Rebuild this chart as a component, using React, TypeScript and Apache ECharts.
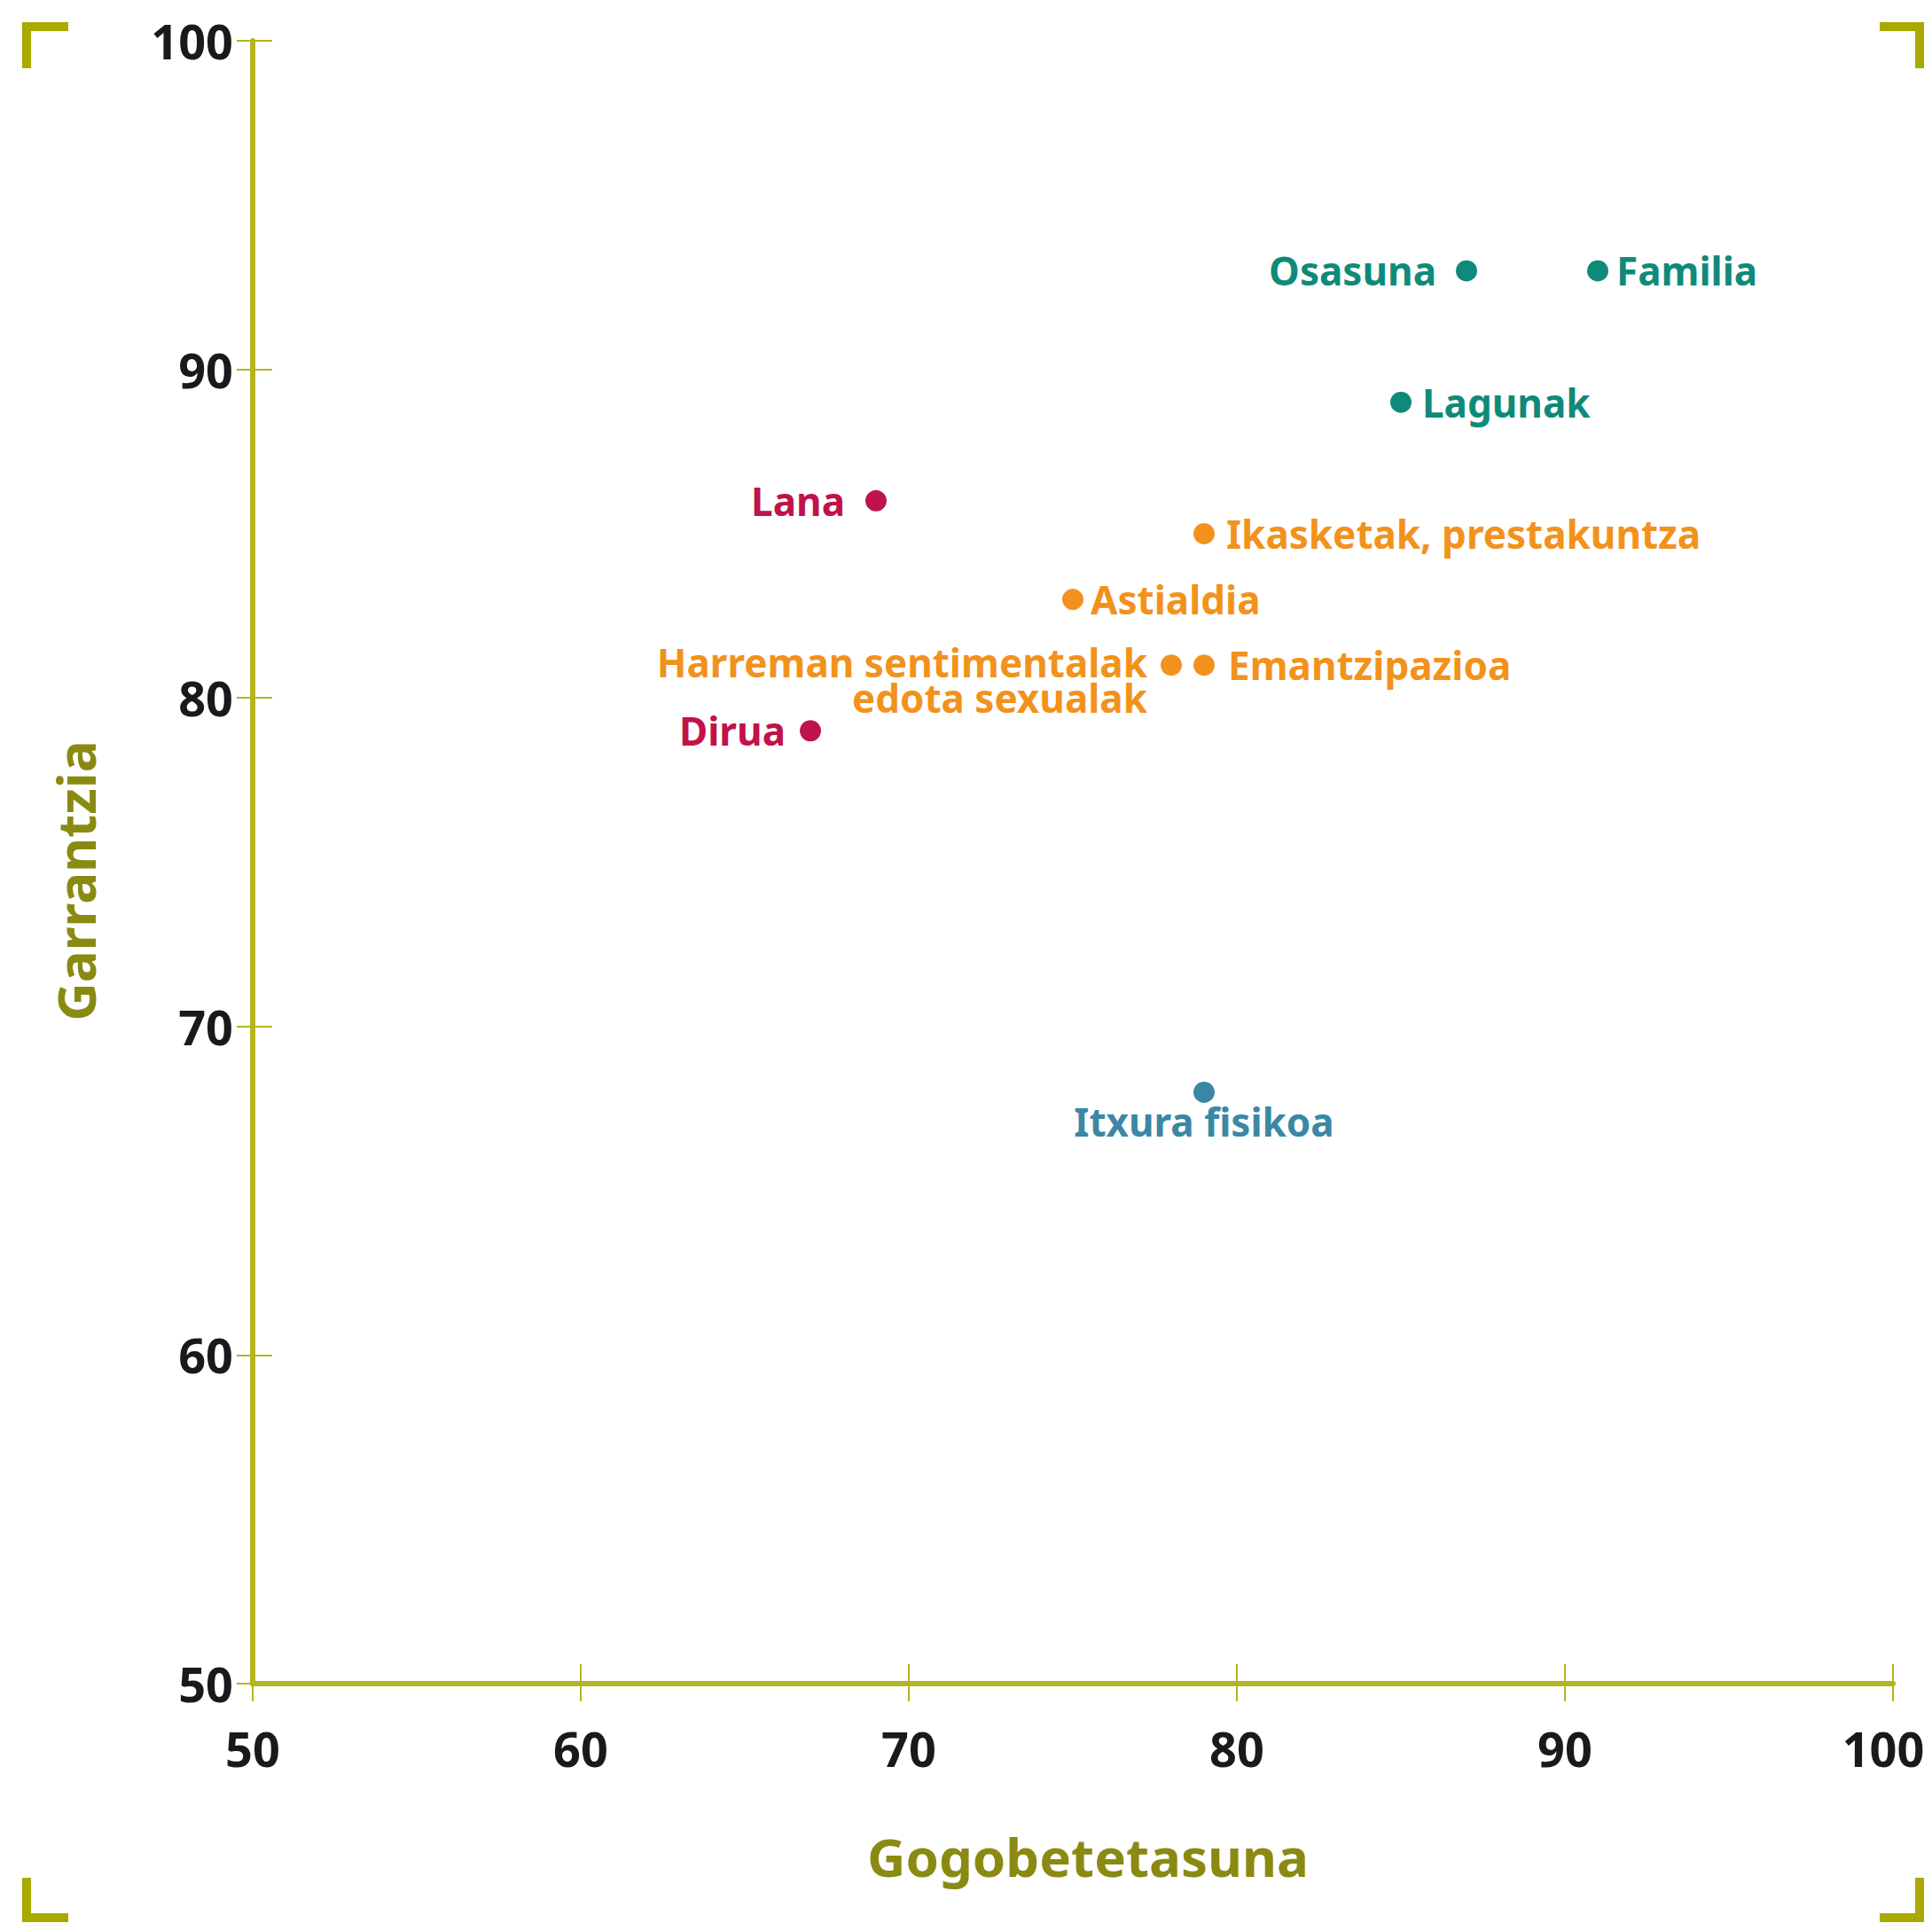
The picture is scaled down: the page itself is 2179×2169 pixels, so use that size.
import React, { useEffect, useRef } from "react";
import * as echarts from "echarts";

// ---- data ----
const itemNames = [
  "Osasuna",
  "Familia",
  "Lagunak",
  "Lana",
  "Ikasketak, prestakuntza",
  "Astialdia",
  "Harreman sentimentalak\nedota sexualak",
  "Emantzipazioa",
  "Dirua",
  "Itxura fisikoa",
];
const satisfaction = [87, 91, 85, 69, 79, 75, 78, 79, 67, 79];
const importance = [93, 93, 89, 86, 85, 83, 81, 81, 79, 68];
const groups = ["teal", "teal", "teal", "red", "orange", "orange", "orange", "orange", "red", "blue"];
const xTicks = [50, 60, 70, 80, 90, 100];
const yTicks = [50, 60, 70, 80, 90, 100];
const xTitle = "Gogobetetasuna";
const yTitle = "Garrantzia";

// ---- styles ----
const groupColors: Record<string, string> = {
  teal: "#0f8a7a",
  red: "#c0124b",
  orange: "#f2921c",
  blue: "#3a88a5",
};
const labelPlacement: Record<string, { position: string; distance: number; dy?: number }> = {
  Osasuna: { position: "left", distance: 22 },
  Familia: { position: "right", distance: 9 },
  Lagunak: { position: "right", distance: 12 },
  Lana: { position: "left", distance: 23 },
  "Ikasketak, prestakuntza": { position: "right", distance: 13 },
  Astialdia: { position: "right", distance: 8 },
  "Harreman sentimentalak\nedota sexualak": { position: "left", distance: 15, dy: 17 },
  Emantzipazioa: { position: "right", distance: 15 },
  Dirua: { position: "left", distance: 16 },
  "Itxura fisikoa": { position: "bottom", distance: 1 },
};

const FONT = "Noto Sans";
const AXIS = "#b4b41e";
const BRACKET = "#a9a900";
const TITLE = "#8a8a12";

export default function App() {
  const ref = useRef<HTMLDivElement>(null);
  useEffect(() => {
    if (!ref.current) return;
    const chart = echarts.init(ref.current, null, { renderer: "svg" });
    const data = itemNames.map((n, i) => {
      const c = groupColors[groups[i]];
      const p = labelPlacement[n];
      return {
        name: n,
        value: [satisfaction[i], importance[i]],
        itemStyle: { color: c, opacity: 1 },
        label: {
          show: true,
          formatter: "{b}",
          position: p.position,
          distance: p.distance,
          color: c,
          opacity: 1,
          fontSize: 44,
          fontWeight: "bold",
          fontFamily: FONT,
          lineHeight: 40,
          align: p.position === "left" ? "right" : p.position === "right" ? "left" : "center",
        },
      };
    });
    const bracket = (x: number, y: number, w: number, h: number) => ({
      type: "rect",
      shape: { x, y, width: w, height: h },
      style: { fill: BRACKET },
      silent: true,
    });
    const tickStyle = { color: "#1a1a1a", fontSize: 54, fontWeight: "bold", fontFamily: FONT };
    chart.setOption({
      animation: false,
      backgroundColor: "#ffffff",
      grid: { left: 285, right: 44, top: 46, bottom: 270, containLabel: false, outerBoundsMode: "none" },
      xAxis: [
        {
          type: "value",
          min: xTicks[0],
          max: xTicks[xTicks.length - 1],
          interval: 10,
          position: "bottom",
          name: xTitle,
          nameLocation: "middle",
          nameGap: 165,
          nameTextStyle: {
            color: TITLE,
            fontSize: 60,
            fontWeight: "bold",
            fontFamily: FONT,
            padding: [0, 0, 0, 34],
          },
          axisLine: { show: true, lineStyle: { color: AXIS, width: 6 } },
          axisTick: { show: true, inside: false, length: 20, lineStyle: { color: AXIS, width: 2 } },
          axisLabel: {
            ...tickStyle,
            margin: 46,
            formatter: (v: number) => (v === xTicks[xTicks.length - 1] ? "{last|" + v + "}" : String(v)),
            rich: { last: { ...tickStyle, padding: [0, 22, 0, 0] } },
          },
          splitLine: { show: false },
        },
        {
          type: "value",
          min: xTicks[0],
          max: xTicks[xTicks.length - 1],
          interval: 10,
          position: "bottom",
          offset: 0,
          axisLine: { show: false },
          axisTick: { show: true, inside: true, length: 22, lineStyle: { color: AXIS, width: 2 } },
          axisLabel: { show: false },
          splitLine: { show: false },
        },
      ],
      yAxis: [
        {
          type: "value",
          min: yTicks[0],
          max: yTicks[yTicks.length - 1],
          interval: 10,
          position: "left",
          name: yTitle,
          nameLocation: "middle",
          nameGap: 170,
          nameTextStyle: {
            color: TITLE,
            fontSize: 60,
            fontWeight: "bold",
            fontFamily: FONT,
            padding: [0, 42, 0, 0],
          },
          axisLine: { show: true, lineStyle: { color: AXIS, width: 6 } },
          axisTick: { show: true, inside: false, length: 18, lineStyle: { color: AXIS, width: 2 } },
          axisLabel: { ...tickStyle, margin: 22 },
          splitLine: { show: false },
        },
        {
          type: "value",
          min: yTicks[0],
          max: yTicks[yTicks.length - 1],
          interval: 10,
          position: "left",
          offset: 0,
          axisLine: { show: false },
          axisTick: { show: true, inside: true, length: 22, lineStyle: { color: AXIS, width: 2 } },
          axisLabel: { show: false },
          splitLine: { show: false },
        },
      ],
      series: [
        {
          type: "scatter",
          xAxisIndex: 0,
          yAxisIndex: 0,
          symbol: "circle",
          symbolSize: 24,
          itemStyle: { opacity: 1 },
          data,
          labelLayout: (params: any) => {
            const p = labelPlacement[itemNames[params.dataIndex]];
            return { hideOverlap: false, dy: (p && p.dy) || 0 };
          },
          z: 5,
        },
      ],
      graphic: [
        bracket(25, 25, 52, 10),
        bracket(25, 25, 10, 52),
        bracket(2120, 25, 50, 10),
        bracket(2160, 25, 10, 52),
        bracket(25, 2158, 52, 10),
        bracket(25, 2118, 10, 50),
        bracket(2120, 2158, 50, 10),
        bracket(2160, 2118, 10, 50),
      ],
    });
    return () => chart.dispose();
  }, []);
  return (
    <div
      ref={ref}
      style={{ position: "absolute", left: 0, top: 0, width: 2179, height: 2169, background: "#fff" }}
    />
  );
}
